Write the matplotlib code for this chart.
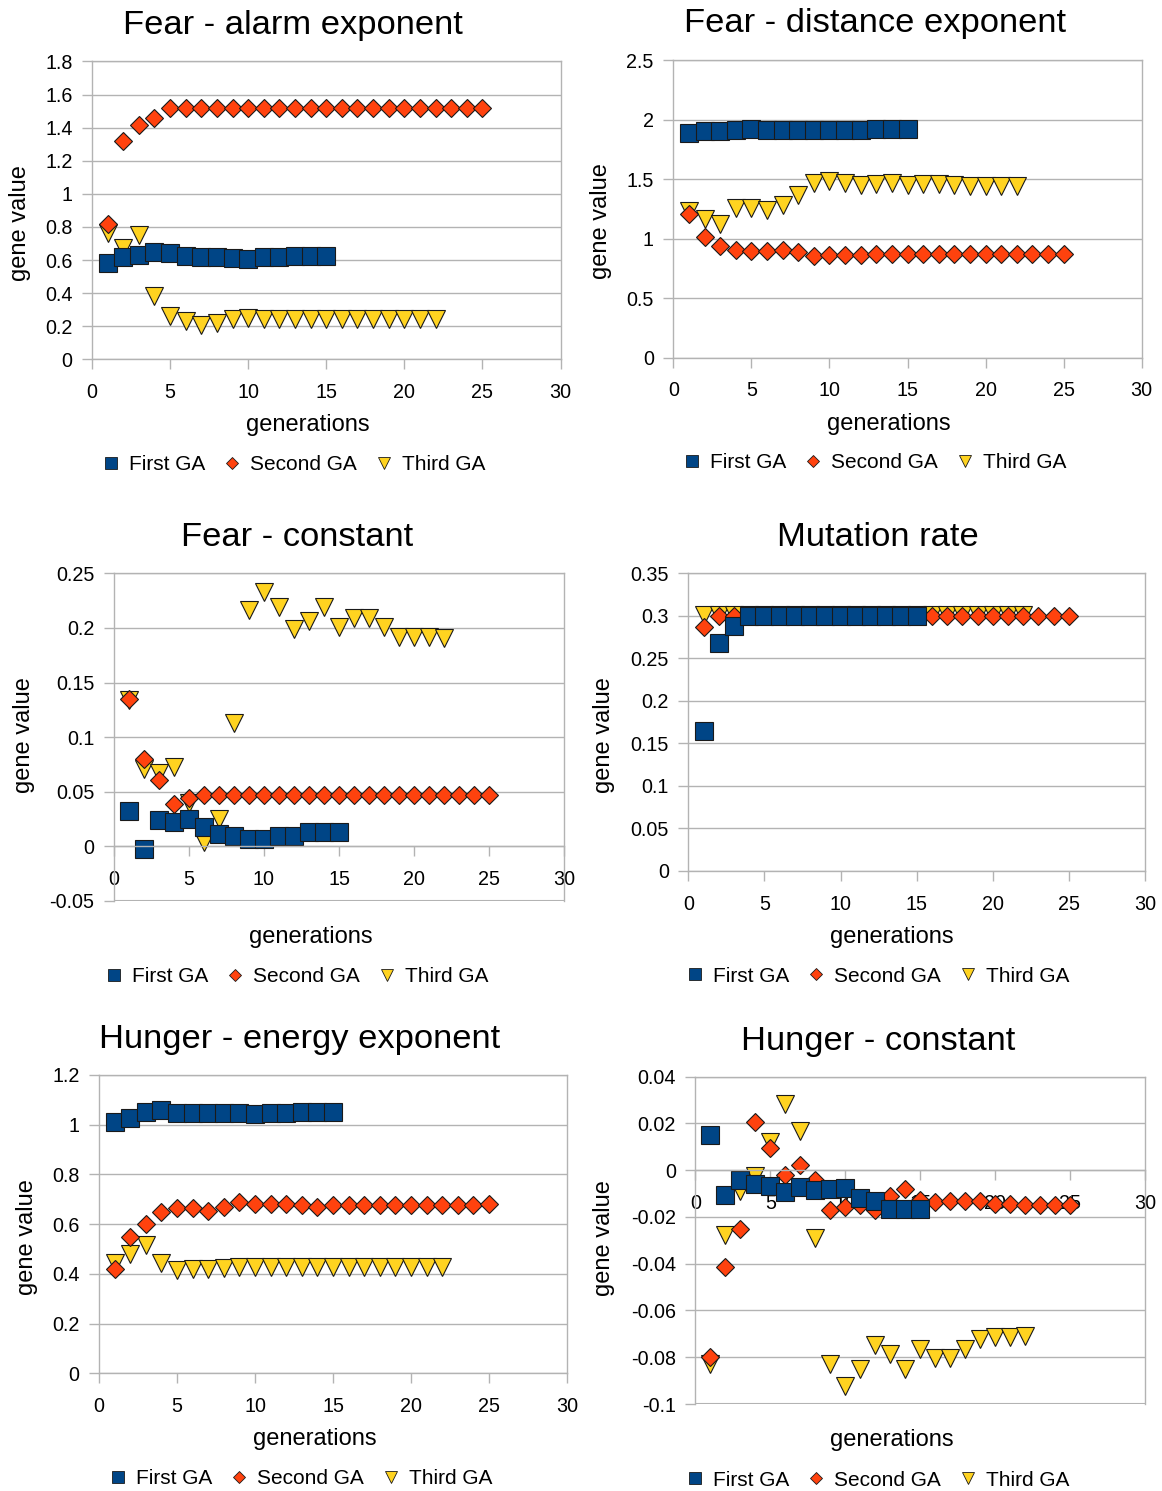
import matplotlib
matplotlib.use("Agg")
import matplotlib.pyplot as plt
from matplotlib.lines import Line2D
from matplotlib.ticker import FuncFormatter, MultipleLocator

plt.rcParams['font.family'] = ['Liberation Sans', 'DejaVu Sans']

# ---------------- data ----------------
gen_first = list(range(1, 16))
gen_second = list(range(1, 26))
gen_third = list(range(1, 23))
series_names = ["First GA", "Second GA", "Third GA"]

# Fear - alarm exponent
first_alarm = [0.585, 0.62, 0.63, 0.648, 0.64, 0.622, 0.62, 0.616, 0.61, 0.608,
               0.616, 0.618, 0.624, 0.626, 0.626]
second_alarm = [0.815, 1.32, 1.414, 1.461, 1.521, 1.521, 1.521, 1.521, 1.521, 1.521,
                1.521, 1.521, 1.521, 1.521, 1.521, 1.521, 1.521, 1.521, 1.521, 1.521,
                1.521, 1.521, 1.521, 1.521, 1.521]
third_alarm = [0.763, 0.67, 0.75, 0.38, 0.262, 0.233, 0.205, 0.217, 0.241, 0.247,
               0.245, 0.245, 0.245, 0.245, 0.245, 0.245, 0.245, 0.245, 0.245, 0.245,
               0.245, 0.245]

# Fear - distance exponent
first_dist = [1.89, 1.906, 1.904, 1.915, 1.92, 1.915, 1.915, 1.915, 1.909, 1.909,
              1.912, 1.915, 1.918, 1.918, 1.918]
second_dist = [1.204, 1.011, 0.94, 0.904, 0.896, 0.893, 0.904, 0.89, 0.857, 0.862,
               0.862, 0.862, 0.868, 0.873, 0.868, 0.868, 0.868, 0.868, 0.868, 0.868,
               0.868, 0.868, 0.868, 0.868, 0.868]
third_dist = [1.235, 1.165, 1.12, 1.26, 1.254, 1.243, 1.282, 1.37, 1.464, 1.48,
              1.47, 1.447, 1.456, 1.464, 1.453, 1.46, 1.46, 1.447, 1.445, 1.445,
              1.445, 1.445]

# Fear - constant
first_const = [0.0323, -0.0024, 0.0238, 0.022, 0.025, 0.0177, 0.0116, 0.0098, 0.0067, 0.0064,
               0.0095, 0.0098, 0.0131, 0.0131, 0.0131]
second_const = [0.1348, 0.0799, 0.0607, 0.039, 0.0442, 0.0466, 0.0466, 0.0466, 0.0466, 0.0466,
                0.0466, 0.0466, 0.0466, 0.0466, 0.0466, 0.0466, 0.0466, 0.0466, 0.0466, 0.0466,
                0.0466, 0.0466, 0.0466, 0.0466, 0.0466]
third_const = [0.134, 0.0707, 0.0674, 0.073, 0.040, 0.004, 0.025, 0.1134, 0.216, 0.233,
               0.219, 0.199, 0.206, 0.219, 0.201, 0.209, 0.209, 0.201, 0.1918, 0.192,
               0.192, 0.1905]

# Mutation rate
first_mut = [0.1645, 0.2686, 0.2886, 0.3, 0.3, 0.3, 0.3, 0.3, 0.3, 0.3,
             0.3, 0.3, 0.3, 0.3, 0.3]
second_mut = [0.287, 0.3, 0.3, 0.3, 0.3, 0.3, 0.3, 0.3, 0.3, 0.3,
              0.3, 0.3, 0.3, 0.3, 0.3, 0.3, 0.3, 0.3, 0.3, 0.3,
              0.3, 0.3, 0.3, 0.3, 0.3]
third_mut = [0.3015, 0.301, 0.301, 0.301, 0.301, 0.301, 0.301, 0.301, 0.301, 0.301,
             0.301, 0.301, 0.301, 0.301, 0.301, 0.301, 0.301, 0.301, 0.301, 0.301,
             0.301, 0.301]

# Hunger - energy exponent
first_energy = [1.012, 1.029, 1.052, 1.058, 1.048, 1.046, 1.046, 1.046, 1.046, 1.044,
                1.048, 1.047, 1.052, 1.052, 1.052]
second_energy = [0.418, 0.55, 0.599, 0.65, 0.666, 0.664, 0.654, 0.669, 0.689, 0.682,
                 0.682, 0.682, 0.677, 0.67, 0.677, 0.677, 0.677, 0.677, 0.677, 0.677,
                 0.677, 0.677, 0.677, 0.677, 0.68]
third_energy = [0.445, 0.478, 0.516, 0.442, 0.417, 0.42, 0.42, 0.422, 0.428, 0.429,
                0.429, 0.429, 0.429, 0.429, 0.429, 0.429, 0.429, 0.429, 0.429, 0.429,
                0.429, 0.429]

# Hunger - constant
first_hunger = [0.01525, -0.0104, -0.004, -0.0057, -0.0066, -0.0094, -0.0071, -0.0083, -0.0081, -0.0074,
                -0.0117, -0.0131, -0.0167, -0.0165, -0.0167]
second_hunger = [-0.0801, -0.0413, -0.0251, 0.0208, 0.0094, -0.0019, 0.0023, -0.004, -0.0171, -0.0157,
                 -0.015, -0.017, -0.011, -0.0081, -0.0128, -0.0135, -0.0133, -0.0133, -0.0133, -0.0143,
                 -0.0145, -0.015, -0.0147, -0.0147, -0.0147]
third_hunger = [-0.0827, -0.0278, -0.0088, -0.0026, 0.0121, 0.0282, 0.0167, -0.029, -0.083, -0.0922,
                -0.0851, -0.0748, -0.0787, -0.0851, -0.0763, -0.0804, -0.0804, -0.0763, -0.072, -0.0713,
                -0.0713, -0.071]

titles = ["Fear - alarm exponent", "Fear - distance exponent", "Fear - constant",
          "Mutation rate", "Hunger - energy exponent", "Hunger - constant"]
panel_data = [(first_alarm, second_alarm, third_alarm),
              (first_dist, second_dist, third_dist),
              (first_const, second_const, third_const),
              (first_mut, second_mut, third_mut),
              (first_energy, second_energy, third_energy),
              (first_hunger, second_hunger, third_hunger)]
ylims = [(0, 1.8), (0, 2.5), (-0.05, 0.25), (0, 0.35), (0, 1.2), (-0.1, 0.04)]
ysteps = [0.2, 0.5, 0.05, 0.05, 0.2, 0.02]
xlabel_text = "generations"
ylabel_text = "gene value"

# ---------------- layout (pixels) ----------------
W, H = 1162, 1491
axes_px = [(92, 61.5, 560.5, 359.3),
           (673.3, 60, 1141.7, 357.7),
           (114, 573.3, 564, 901),
           (688.3, 573.3, 1145, 871),
           (99, 1075, 567, 1373.3),
           (695.3, 1076.7, 1145, 1404)]
title_pos = [(293, 34), (875, 32), (297, 546), (878, 546), (300, 1048), (878, 1050)]
ylab_pos = [(20, 223), (601, 221), (24, 735), (604, 735), (27, 1237), (604, 1238)]
xlab_pos = [(308, 431), (889, 430), (311, 943), (892, 943), (315, 1445), (892, 1446)]
leg_pos = [(294, 465), (875, 463), (297, 977), (878, 976), (301, 1479), (878, 1480)]

colors = ["#004586", "#ff420e", "#ffd320"]
markers = ["s", "D", "v"]
msizes = [13.2, 9.2, 13.0]
zorders = [2.3, 2.2, 2.1]
grid_c = "#b3b3b3"

fig = plt.figure(figsize=(W / 100, H / 100), dpi=100)

def fx(x):
    return x / W

def fy(y):
    return 1 - y / H

def tick_fmt(v, p):
    v = round(v, 6)
    if abs(v) < 1e-9:
        v = 0.0
    return f"{v:g}"

fmt = FuncFormatter(tick_fmt)

for i in range(6):
    x0, y0, x1, y1 = axes_px[i]
    ax = fig.add_axes([fx(x0), fy(y1), (x1 - x0) / W, (y1 - y0) / H])
    gens = [gen_first, gen_second, gen_third]
    for k in range(3):
        ax.plot(gens[k], panel_data[i][k], linestyle="none", marker=markers[k],
                markersize=msizes[k], markerfacecolor=colors[k],
                markeredgecolor="#1a1a1a", markeredgewidth=0.8,
                zorder=zorders[k], clip_on=False)
    ax.set_xlim(0, 30)
    ax.set_ylim(*ylims[i])
    ax.xaxis.set_major_locator(MultipleLocator(5))
    ax.yaxis.set_major_locator(MultipleLocator(ysteps[i]))
    ax.yaxis.set_major_formatter(fmt)
    ax.xaxis.set_major_formatter(fmt)
    ax.set_axisbelow(True)
    ax.grid(axis="y", color=grid_c, linewidth=1.0)
    for s in ax.spines.values():
        s.set_color(grid_c)
        s.set_linewidth(1.0)
    if ylims[i][0] < 0:
        ax.spines["bottom"].set_position(("data", 0))
        ax.axhline(ylims[i][0], color=grid_c, linewidth=1.5, zorder=0.5)
    ax.tick_params(axis="both", direction="out", length=7, width=1.0,
                   color=grid_c, labelsize=14.2, labelcolor="black")
    ax.tick_params(axis="y", pad=7)
    ax.tick_params(axis="x", pad=10)
    fig.text(fx(title_pos[i][0]), fy(title_pos[i][1]), titles[i],
             ha="center", va="baseline", fontsize=24.8)
    fig.text(fx(xlab_pos[i][0]), fy(xlab_pos[i][1]), xlabel_text,
             ha="center", va="baseline", fontsize=17)
    fig.text(fx(ylab_pos[i][0]), fy(ylab_pos[i][1]), ylabel_text,
             ha="center", va="center", fontsize=17, rotation=90)
    handles = [Line2D([], [], linestyle="none", marker=markers[k],
                      markersize=[8.6, 6.3, 9.0][k], markerfacecolor=colors[k],
                      markeredgecolor="#1a1a1a", markeredgewidth=0.6)
               for k in range(3)]
    fig.legend(handles, series_names, loc="center",
               bbox_to_anchor=(fx(leg_pos[i][0]), fy(leg_pos[i][1])),
               ncol=3, frameon=False, fontsize=15, handlelength=0.8,
               handletextpad=0.45, columnspacing=0.9, borderpad=0)

fig.savefig("out.png", dpi=100)
